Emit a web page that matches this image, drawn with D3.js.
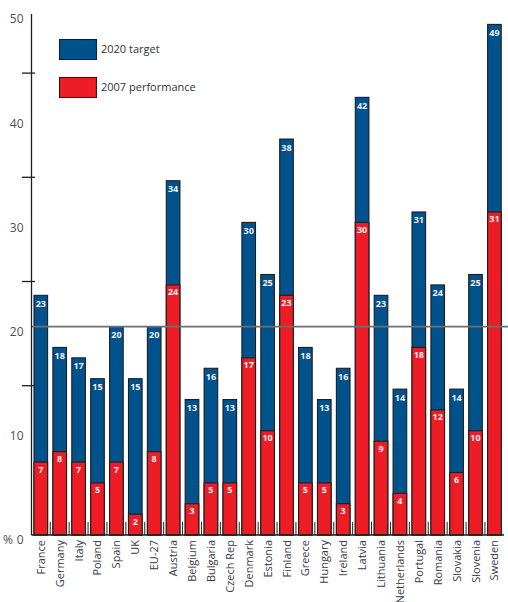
<!DOCTYPE html>
<html>
<head>
<meta charset="utf-8">
<script src="https://cdn.jsdelivr.net/npm/d3@7"></script>
<style>
  html, body { margin: 0; padding: 0; background: #ffffff; }
  svg { display: block; }
  text { font-family: "Open Sans", "DejaVu Sans", sans-serif; }
</style>
</head>
<body>
<svg id="chart" width="508" height="602"></svg>
<script>
const categories = ["France","Germany","Italy","Poland","Spain","UK","EU-27","Austria","Belgium","Bulgaria","Czech Rep","Denmark","Estonia","Finland","Greece","Hungary","Ireland","Latvia","Lithuania","Netherlands","Portugal","Romania","Slovakia","Slovenia","Sweden"];
const target2020 = [23,18,17,15,20,15,20,34,13,16,13,30,25,38,18,13,16,42,23,14,31,24,14,25,49];
const perf2007 = [7,8,7,5,7,2,8,24,3,5,5,17,10,23,5,5,3,30,9,4,18,12,6,10,31];
const yTickValues = [0,10,20,30,40,50];
const minorTickValues = [15,25,35,45];
const referenceValue = 20;
const unitLabel = "%";
const seriesNames = ["2020 target","2007 performance"];
const seriesColors = ["#00528d","#ee1c25"];

const svg = d3.select("#chart");
const x0 = 31.5, baseY = 535;

const x = d3.scaleBand().domain(categories).range([x0, 503.7]).paddingInner(0.28).paddingOuter(0.132);
const y = d3.scaleLinear().domain([0,50]).range([baseY, 14]);
const bw = x.bandwidth();
const gap = x.step() - bw;

const data = categories.map((c,i) => ({c, t: target2020[i], p: perf2007[i]}));

// between-bar small ticks
svg.append("g").selectAll("line").data(categories.slice(1)).join("line")
  .attr("x1", d => x(d) - gap/2).attr("x2", d => x(d) - gap/2)
  .attr("y1", baseY).attr("y2", baseY - 13)
  .attr("stroke", "#222").attr("stroke-width", 1);

// bars
const bars = svg.append("g");
bars.selectAll("rect.t").data(data).join("rect").attr("class","t")
  .attr("x", d => x(d.c)).attr("width", bw)
  .attr("y", d => y(d.t)).attr("height", d => y(0) - y(d.t))
  .attr("fill", seriesColors[0]).attr("stroke", "#1e1e1e").attr("stroke-width", 1.1);
bars.selectAll("rect.p").data(data).join("rect").attr("class","p")
  .attr("x", d => x(d.c)).attr("width", bw)
  .attr("y", d => y(d.p)).attr("height", d => y(0) - y(d.p))
  .attr("fill", seriesColors[1]).attr("stroke", "#1e1e1e").attr("stroke-width", 1.1);

// value labels
const lbl = svg.append("g").attr("font-size", 9).attr("font-weight", 700).attr("fill", "#f0eef4").attr("text-anchor", "middle");
lbl.selectAll("text.t").data(data).join("text").attr("class","t")
  .attr("x", d => x(d.c) + bw/2).attr("y", d => y(d.t) + 11.5).text(d => d.t);
lbl.selectAll("text.p").data(data).join("text").attr("class","p")
  .attr("x", d => x(d.c) + bw/2).attr("y", d => y(d.p) + 10.5).text(d => d.p);

// reference line
svg.append("line").attr("x1", x0).attr("x2", 508)
  .attr("y1", y(referenceValue)).attr("y2", y(referenceValue))
  .attr("stroke", "#6f6f6f").attr("stroke-width", 1.6);

// baseline
svg.append("line").attr("x1", x0).attr("x2", 504).attr("y1", baseY).attr("y2", baseY)
  .attr("stroke", "#1e1e1e").attr("stroke-width", 1.3);

// y axis
svg.append("line").attr("x1", x0).attr("x2", x0).attr("y1", y(50)).attr("y2", baseY)
  .attr("stroke", "#1e1e1e").attr("stroke-width", 1.3);
svg.append("g").selectAll("line").data(minorTickValues).join("line")
  .attr("x1", 22).attr("x2", 35).attr("y1", d => y(d) + 7).attr("y2", d => y(d) + 7)
  .attr("stroke", "#1e1e1e").attr("stroke-width", 1.3);

const yAxis = svg.append("g").attr("transform", `translate(${x0},5)`)
  .call(d3.axisLeft(y).tickValues(yTickValues).tickSize(0).tickPadding(8));
yAxis.select(".domain").remove();
yAxis.selectAll("text").attr("font-size", 12).attr("fill", "#4d4d5c")
  .attr("font-family", "\"Open Sans\", sans-serif");

svg.append("text").attr("x", 8).attr("y", y(0) + 5).attr("dy", "0.32em")
  .attr("text-anchor", "middle").attr("font-size", 12).attr("fill", "#4d4d5c").text(unitLabel);

// x axis labels
const xl = svg.append("g").attr("font-size", 11).attr("fill", "#3a3a48");
xl.selectAll("text").data(categories).join("text")
  .attr("transform", d => `translate(${x(d) + bw/2 + 4},${baseY + 5}) rotate(-90)`)
  .attr("text-anchor", "end").text(d => d);

// legend
const lg = svg.append("g");
seriesNames.forEach((name, i) => {
  const yy = 39.5 + i * 38;
  lg.append("rect").attr("x", 59.5).attr("y", yy).attr("width", 37).attr("height", 20)
    .attr("fill", seriesColors[i]).attr("stroke", "#1e1e1e").attr("stroke-width", 1.1);
  lg.append("text").attr("x", 101).attr("y", yy + 10).attr("dy", "0.35em")
    .attr("font-size", 11).attr("fill", "#333340").text(name);
});
</script>
</body>
</html>
